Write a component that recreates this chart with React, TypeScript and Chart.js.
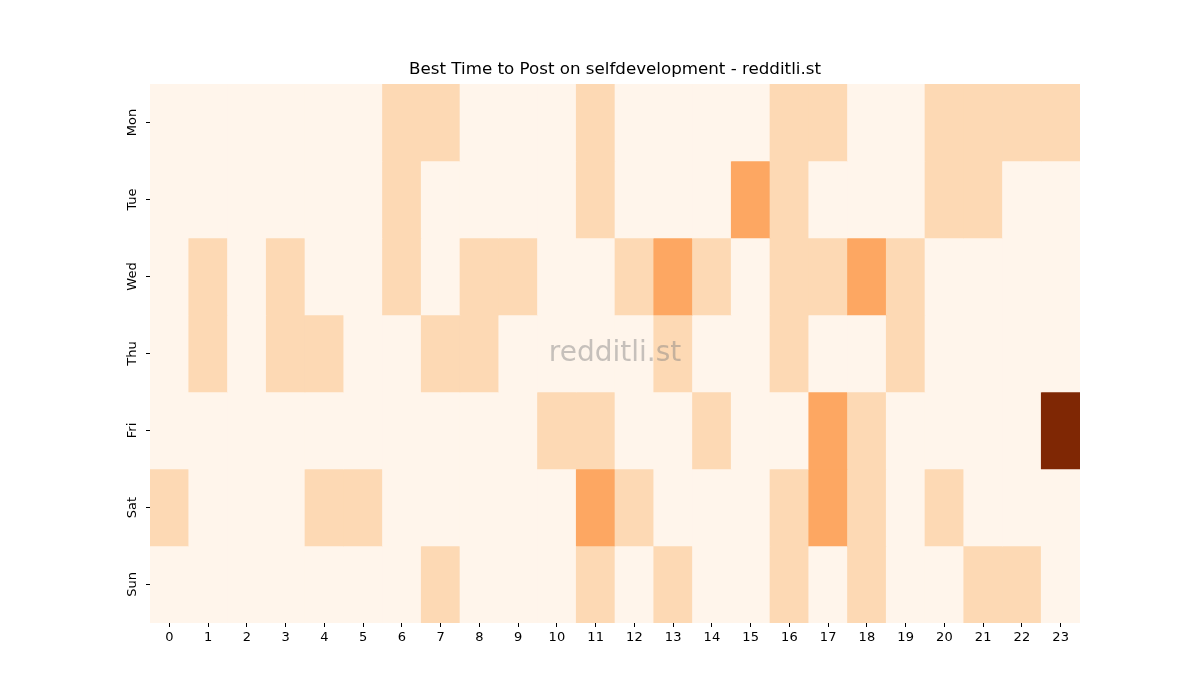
import { useRef, useEffect } from 'react';
import Chart from 'chart.js/auto';

const days = ['Mon', 'Tue', 'Wed', 'Thu', 'Fri', 'Sat', 'Sun'];
const hours = ['0', '1', '2', '3', '4', '5', '6', '7', '8', '9', '10', '11', '12', '13', '14', '15', '16', '17', '18', '19', '20', '21', '22', '23'];

// posts per hour, one array per weekday
const mon = [0, 0, 0, 0, 0, 0, 1, 1, 0, 0, 0, 1, 0, 0, 0, 0, 1, 1, 0, 0, 1, 1, 1, 1];
const tue = [0, 0, 0, 0, 0, 0, 1, 0, 0, 0, 0, 1, 0, 0, 0, 2, 1, 0, 0, 0, 1, 1, 0, 0];
const wed = [0, 1, 0, 1, 0, 0, 1, 0, 1, 1, 0, 0, 1, 2, 1, 0, 1, 1, 2, 1, 0, 0, 0, 0];
const thu = [0, 1, 0, 1, 1, 0, 0, 1, 1, 0, 0, 0, 0, 1, 0, 0, 1, 0, 0, 1, 0, 0, 0, 0];
const fri = [0, 0, 0, 0, 0, 0, 0, 0, 0, 0, 1, 1, 0, 0, 1, 0, 0, 2, 1, 0, 0, 0, 0, 5];
const sat = [1, 0, 0, 0, 1, 1, 0, 0, 0, 0, 0, 2, 1, 0, 0, 0, 1, 2, 1, 0, 1, 0, 0, 0];
const sun = [0, 0, 0, 0, 0, 0, 0, 1, 0, 0, 0, 1, 0, 1, 0, 0, 1, 0, 1, 0, 0, 1, 1, 0];

const grid = [mon, tue, wed, thu, fri, sat, sun];

// matplotlib "Oranges"
const oranges = ['#fff5eb', '#fee6ce', '#fdd0a2', '#fdae6b', '#fd8d3c', '#f16913', '#d94801', '#a63603', '#7f2704'];

const hexToRgb = (h: string) => [1, 3, 5].map((i) => parseInt(h.slice(i, i + 2), 16));

const colorFor = (v: number, max: number) => {
  const t = Math.max(0, Math.min(1, v / max)) * (oranges.length - 1);
  const i = Math.min(Math.floor(t), oranges.length - 2);
  const f = t - i;
  const a = hexToRgb(oranges[i]);
  const b = hexToRgb(oranges[i + 1]);
  const c = a.map((x, k) => Math.round(x + (b[k] - x) * f));
  return `rgb(${c[0]},${c[1]},${c[2]})`;
};

const App = () => {
  const canvasRef = useRef<HTMLCanvasElement | null>(null);

  useEffect(() => {
    document.body.style.margin = '0';
    if (!canvasRef.current) return;
    const ctx = canvasRef.current.getContext('2d');
    if (!ctx) return;

    const max = Math.max(...grid.flat());

    const overlay = {
      id: 'overlay',
      afterDraw(chart: any) {
        const { ctx, chartArea } = chart;
        const cx = (chartArea.left + chartArea.right) / 2;
        ctx.save();
        ctx.textAlign = 'center';
        ctx.textBaseline = 'middle';
        ctx.fillStyle = '#000';
        ctx.font = '16.7px "DejaVu Sans"';
        ctx.fillText('Best Time to Post on selfdevelopment - redditli.st', cx, 70);
        ctx.fillStyle = 'rgba(128,128,128,0.45)';
        ctx.font = '28px "DejaVu Sans"';
        ctx.fillText('redditli.st', cx, (chartArea.top + chartArea.bottom) / 2);
        ctx.restore();
      },
    };

    const chart = new Chart(ctx, {
      type: 'bar',
      data: {
        labels: hours,
        datasets: grid.map((row, d) => ({
          label: days[d],
          data: row.map(() => [d, d + 1]),
          backgroundColor: row.map((v) => colorFor(v, max)),
          borderWidth: 0,
          barPercentage: 1,
          categoryPercentage: 1,
          grouped: false,
        })) as any,
      },
      options: {
        animation: false,
        responsive: false,
        maintainAspectRatio: false,
        layout: { padding: { top: 84, left: 110, right: 120, bottom: 47 } },
        plugins: {
          legend: { display: false },
          tooltip: { enabled: false },
          title: { display: false },
        },
        scales: {
          x: {
            type: 'category',
            border: { display: false },
            grid: { drawOnChartArea: false, offset: false, tickLength: 4, tickColor: '#000' },
            ticks: {
              color: '#000',
              font: { family: '"DejaVu Sans"', size: 13 },
              padding: 3,
              maxRotation: 0,
              autoSkip: false,
            },
            afterFit: (s: any) => {
              s.height = 30;
            },
          },
          y: {
            type: 'linear',
            min: 0,
            max: 7,
            reverse: true,
            border: { display: false },
            grid: { drawOnChartArea: false, tickLength: 4, tickColor: '#000' },
            afterBuildTicks: (s: any) => {
              s.ticks = days.map((_, i) => ({ value: i + 0.5 }));
            },
            ticks: {
              color: '#000',
              font: { family: '"DejaVu Sans"', size: 13 },
              padding: -1,
              minRotation: 90,
              maxRotation: 90,
              crossAlign: 'center',
              callback: (v: any) => days[Math.floor(Number(v))],
            },
            afterFit: (s: any) => {
              s.width = 40;
            },
          },
        },
      },
      plugins: [overlay],
    });

    return () => {
      chart.destroy();
    };
  }, []);

  return (
    <div style={{ position: 'absolute', top: 0, left: 0, width: 1200, height: 700, background: '#fff' }}>
      <canvas ref={canvasRef} width={1200} height={700} style={{ width: 1200, height: 700 }} />
    </div>
  );
};

export default App;
